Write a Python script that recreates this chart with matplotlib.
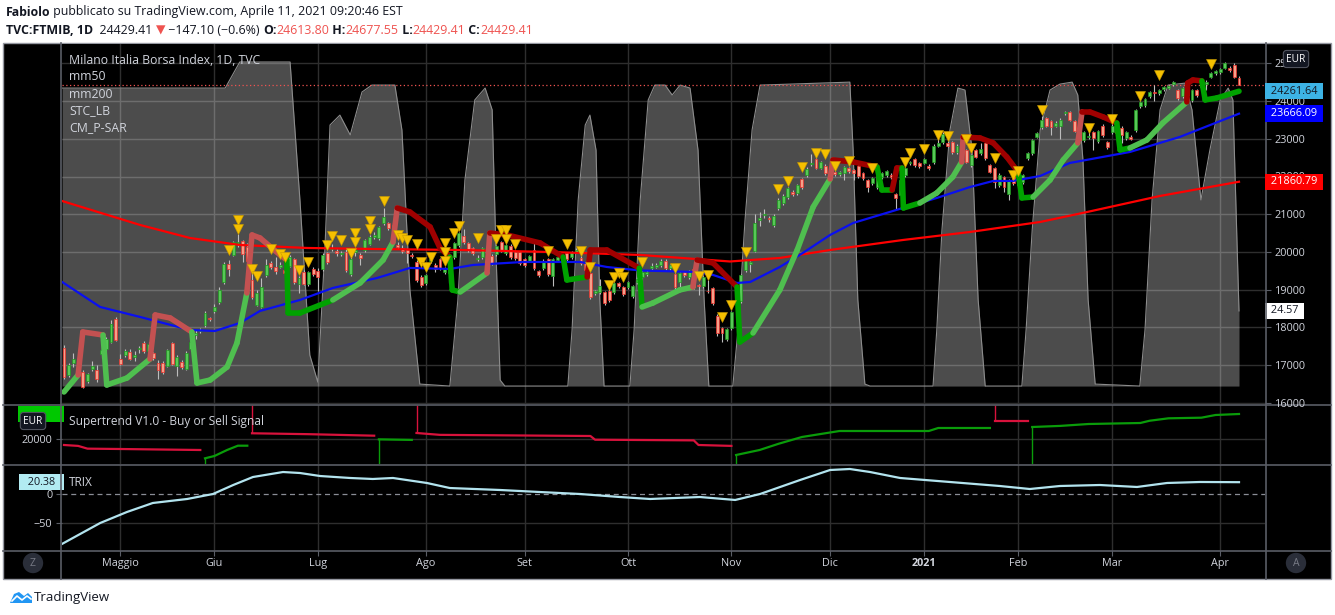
"""
FTSE MIB daily chart (TVC:FTMIB, 1D) with mm50 / mm200, STC, trailing stop,
Supertrend and TRIX panes - rebuilt from a TradingView screenshot.
"""

import numpy as np
import pandas as pd
import matplotlib
matplotlib.use("Agg")
import matplotlib.pyplot as plt
import matplotlib.transforms as mtransforms
from matplotlib.collections import LineCollection
from matplotlib.lines import Line2D
from matplotlib.patches import Rectangle, Polygon

plt.rcParams['font.family'] = ['Open Sans', 'DejaVu Sans']

W, H = 1335, 615

# ---------------- daily candles ----------------
opens = [
    17450, 16730, 17050, 17050, 16820, 16570, 16900, 16860, 17290, 17420,
    17600, 18210, 17160, 17260, 17340, 17210, 17420, 17580, 17370, 17310,
    17050, 17050, 16970, 17580, 16970, 17080, 16890, 17420, 17790, 17900,
    18060, 18240, 18430, 18670, 19190, 19680, 19920, 20230, 20290, 20130,
    19250, 18590, 18530, 19380, 19700, 19600, 19600, 19510, 19630, 19810,
    19150, 19460, 19150, 19540, 19490, 19540, 19960, 20070, 20020, 19940,
    20000, 19410, 19990, 19910, 20050, 20210, 20390, 20360, 20760, 20760,
    20710, 20180, 20100, 20050, 19910, 19730, 19330, 19170, 19760, 19650,
    19800, 19460, 19440, 19860, 20180, 20420, 20230, 20100, 19810, 19860,
    19860, 19890, 19940, 20260, 19970, 20150, 20000, 19990, 19810, 19760,
    20050, 19490, 19570, 19810, 19360, 19780, 19810, 19970, 19860, 20000,
    19840, 19730, 19440, 18900, 18930, 18930, 18960, 18930, 19170, 19060,
    19060, 18830, 19200, 19330, 19410, 19570, 19600, 19650, 19760, 19570,
    19410, 19190, 19460, 19330, 19540, 19110, 19090, 18960, 19040, 18300,
    17970, 17680, 17980, 18770, 18690, 19520, 19680, 20030, 20840, 20990,
    20890, 20710, 21160, 21290, 21450, 21590, 21560, 21930, 22030, 22330,
    22460, 22230, 22280, 22180, 22110, 22060, 22090, 22220, 22170, 22280,
    22090, 21900, 21820, 21720, 21980, 22030, 22040, 21530, 21510, 22030,
    22350, 22460, 22350, 22360, 22280, 22380, 22810, 22910, 22890, 22910,
    22650, 22840, 22700, 22300, 22700, 22620, 22880, 22300, 22220, 21770,
    21980, 21530, 21980, 21770, 21850, 22490, 22620, 23050, 23310, 23550,
    23470, 23340, 23340, 23680, 23710, 23470, 23260, 22960, 23050, 23180,
    22940, 23340, 22910, 23180, 23260, 23290, 23020, 23050, 23230, 23870,
    23890, 24130, 24240, 24210, 24320, 24350, 24450, 24290, 24130, 24290,
    24020, 24290, 24370, 24450, 24640, 24740, 24770, 24880, 24880, 24960,
    24613.80,
]
highs = [
    17520, 17060, 17310, 17200, 16870, 16800, 17100, 17000, 17560, 17740,
    18190, 18260, 17290, 17420, 17420, 17380, 17500, 17640, 17600, 17350,
    17120, 17100, 17420, 17600, 17260, 17120, 17360, 17650, 17920, 17990,
    18420, 18280, 18620, 19070, 19720, 19780, 20300, 20480, 20320, 20230,
    19520, 19000, 19300, 19800, 19760, 19860, 19720, 19800, 19920, 19850,
    19370, 19520, 19500, 19600, 19560, 19960, 20010, 20200, 20080, 20020,
    20080, 20010, 20100, 19970, 20350, 20460, 20520, 20700, 21160, 20800,
    20760, 20250, 20170, 20110, 19980, 19780, 19380, 19420, 19870, 19700,
    19850, 19610, 19740, 20270, 20540, 20620, 20270, 20140, 19930, 20140,
    19920, 19940, 20190, 20300, 20220, 20200, 20040, 20030, 19850, 19930,
    20300, 19530, 19800, 19850, 19850, 19920, 19940, 20010, 20030, 20110,
    19880, 19770, 19480, 19000, 19290, 18970, 19010, 19210, 19210, 19100,
    19240, 19130, 19330, 19510, 19520, 19700, 19700, 19800, 19800, 19690,
    19450, 19480, 19500, 19530, 19580, 19150, 19370, 19250, 19080, 18360,
    18010, 17990, 18440, 19080, 19420, 19820, 19760, 21000, 21050, 21130,
    20940, 21000, 21420, 21530, 21730, 21640, 21810, 21970, 22240, 22600,
    22500, 22420, 22320, 22280, 22150, 22150, 22290, 22260, 22210, 22320,
    22130, 21940, 22000, 22050, 22130, 22180, 22080, 21570, 21940, 22260,
    22420, 22500, 22390, 22500, 22320, 22850, 23020, 23170, 22930, 22950,
    22850, 22880, 22740, 22610, 22740, 22900, 22920, 22340, 22260, 22080,
    22020, 21940, 22020, 21940, 22070, 22660, 23000, 23190, 23600, 23590,
    23510, 23460, 23540, 23750, 23750, 23510, 23300, 23220, 23300, 23220,
    23240, 23380, 22950, 23380, 23300, 23330, 23220, 23090, 23800, 24010,
    24090, 24280, 24420, 24330, 24410, 24440, 24540, 24330, 24380, 24330,
    24330, 24330, 24520, 24550, 24780, 24830, 24890, 25050, 24920, 25000,
    24677.55,
]
lows = [
    16640, 16690, 16940, 16920, 16380, 16520, 16830, 16560, 17180, 17380,
    17580, 17640, 16990, 17200, 17140, 17110, 17320, 17330, 17310, 17130,
    16640, 16760, 16940, 16990, 16720, 16900, 16860, 17380, 17700, 17850,
    18020, 18170, 18390, 18630, 19150, 19370, 19880, 20130, 19720, 19720,
    18760, 18560, 18500, 19330, 19540, 19420, 19560, 19400, 19590, 19160,
    18900, 19110, 19100, 19370, 18960, 19500, 19690, 20020, 19900, 19880,
    19470, 19370, 19900, 19650, 20010, 20170, 20330, 20320, 20720, 20590,
    20460, 20090, 19960, 19700, 19840, 19200, 19080, 19130, 19700, 19480,
    19530, 19420, 19180, 19820, 20140, 20220, 19990, 19930, 19770, 19820,
    19740, 19660, 19900, 20010, 19930, 19820, 19790, 19660, 19610, 19720,
    19530, 19340, 19530, 19370, 19100, 19740, 19770, 19770, 19820, 19960,
    19660, 19480, 18760, 18860, 18890, 18600, 18680, 18890, 19050, 18840,
    19020, 18790, 19160, 19100, 19370, 19530, 19560, 19610, 19530, 19530,
    19020, 18980, 19340, 19290, 19020, 18850, 19050, 18900, 18600, 17780,
    17600, 17640, 17940, 18730, 18650, 19480, 19480, 19990, 20700, 20900,
    20800, 20670, 21120, 21250, 21410, 21490, 21520, 21680, 21990, 22290,
    22190, 22190, 22050, 22000, 22020, 22020, 21900, 22100, 21900, 21970,
    21920, 21600, 21780, 21680, 21940, 21990, 21940, 21150, 21470, 21990,
    22310, 22260, 22230, 22320, 22180, 22340, 22770, 22870, 22770, 22610,
    22610, 22670, 22350, 22260, 22480, 22580, 22450, 22080, 21700, 21730,
    21600, 21380, 21780, 21730, 21810, 22450, 22580, 23010, 23270, 23300,
    23100, 23300, 23000, 23640, 23460, 23170, 22920, 22920, 23000, 22700,
    22900, 23060, 22740, 23140, 23110, 22900, 22980, 22960, 23190, 23830,
    23850, 24090, 24000, 24170, 24280, 24310, 24410, 24040, 24090, 24120,
    23980, 24120, 24330, 24300, 24600, 24700, 24730, 24840, 24780, 24600,
    24429.41,
]
closes = [
    16680, 17000, 17150, 17130, 16420, 16760, 16980, 16620, 17390, 17690,
    18080, 17660, 17030, 17370, 17160, 17260, 17450, 17370, 17550, 17180,
    16860, 16810, 17390, 17020, 17210, 16950, 17310, 17610, 17850, 17930,
    18380, 18210, 18540, 18980, 19680, 19550, 20260, 20260, 19940, 19760,
    18800, 18910, 19060, 19640, 19600, 19490, 19650, 19440, 19860, 19200,
    19320, 19150, 19460, 19410, 19330, 19910, 19730, 20100, 19960, 19960,
    19510, 19810, 20040, 19830, 20310, 20390, 20440, 20650, 20920, 20630,
    20500, 20130, 20020, 19970, 19890, 19250, 19120, 19380, 19810, 19540,
    19570, 19570, 19700, 20230, 20500, 20260, 20050, 19970, 19850, 20100,
    19780, 19700, 20150, 20050, 20180, 19860, 19830, 19700, 19650, 19890,
    19570, 19380, 19760, 19410, 19810, 19860, 19890, 19810, 19990, 20050,
    19700, 19520, 18800, 18950, 19090, 18640, 18720, 19170, 19090, 18880,
    19200, 19090, 19280, 19470, 19470, 19620, 19650, 19760, 19570, 19650,
    19060, 19440, 19380, 19490, 19060, 19100, 19330, 18950, 18640, 17840,
    17840, 17950, 18400, 19040, 19380, 19780, 19720, 20760, 20900, 21010,
    20870, 20950, 21370, 21480, 21690, 21530, 21770, 21720, 22200, 22370,
    22230, 22380, 22090, 22230, 22060, 22110, 22250, 22140, 22090, 22010,
    21960, 21720, 21960, 22010, 22090, 22140, 21980, 21430, 21900, 22220,
    22380, 22300, 22270, 22460, 22220, 22810, 22890, 23130, 22810, 22650,
    22810, 22710, 22390, 22570, 22520, 22730, 22490, 22120, 21850, 22040,
    21720, 21900, 21820, 21900, 22030, 22620, 22960, 23150, 23500, 23340,
    23310, 23420, 23500, 23710, 23500, 23210, 22960, 23180, 23080, 23020,
    23200, 23100, 22780, 23340, 23150, 23100, 23180, 23000, 23760, 23970,
    24050, 24240, 24210, 24290, 24370, 24400, 24500, 24080, 24340, 24160,
    24290, 24160, 24480, 24510, 24740, 24790, 24850, 25010, 24820, 24640,
    24429.41,
]

# ---------------- indicators (bar index, value) ----------------
ma50_bars = [-0.4, 7.7, 16.2, 26.8, 32.1, 37.4, 41.7, 50.2, 57.2, 66.6, 73.6, 82.1,
             87, 97.7, 109.8, 115.5, 122.6, 134.7, 138.1, 143.2, 146, 152.3, 157.2,
             163, 167.9, 178.5, 185.7, 192.8, 197.7, 201.9, 207.7, 214, 226.8, 237.4, 250]
ma50_vals = [19202, 18539, 18274, 17929, 17902, 18114, 18433, 18725, 19043, 19308, 19574, 19547,
             19653, 19733, 19733, 19600, 19507, 19467, 19388, 19176, 19202, 19600, 19972,
             20449, 20767, 21165, 21431, 21722, 21882, 21882, 22014, 22359, 22651, 23049, 23666.09]

ma200_bars = [-0.4, 16.2, 26.8, 37.4, 51.7, 65.7, 84.3, 103.4, 122.6, 141.7, 152.3,
              163, 178.5, 192.8, 207.7, 217.7, 233.2, 250]
ma200_vals = [21350, 20714, 20369, 20184, 20104, 20078, 20051, 19998, 19919, 19746, 19839,
              20051, 20316, 20529, 20794, 21059, 21484, 21860.79]

# STC_LB oscillator (0-100), drawn as grey area on the price pane
stc_bars = [-0.4, 34.3, 37.4, 48.1, 50.2, 52.3, 54.0, 55.5, 56.6, 58.7, 60.9, 63.4, 65.5,
            70.4, 71.9, 73.6, 75.7, 82.1, 83.8, 85.3, 87.4, 89.6, 91.1, 91.9, 92.8, 93.8,
            107.2, 108.1, 109.4, 110.9, 111.9, 113.2, 114.0, 114.9, 120.4, 121.3, 122.6,
            124.3, 125.7, 127.9, 129.4, 131.1, 133.2, 134.9, 136.2, 137.2, 142.3, 143.4,
            144.9, 146.4, 148.1, 167.2, 167.9, 168.9, 170.4, 171.5, 184.9, 185.7, 186.8,
            188.5, 190.2, 191.7, 193.2, 194.5, 196.0, 203.8, 204.7, 206.0, 207.7, 209.8,
            211.9, 214.5, 215.7, 216.8, 217.9, 219.4, 228.9, 230.0, 231.5, 233.2, 234.9,
            238.5, 240.0, 241.9, 243.8, 246.0, 247.7, 248.7, 250]
stc_vals = [92.1, 92.1, 100, 100, 58.2, 11.2, 3.0, 43.0, 80.9, 83.9, 77.9, 90.9, 93.0,
            93.0, 79.4, 30.9, 2.4, 1.8, 27.9, 64.2, 88.5, 92.1, 85.5, 43.0, 3.6, 1.8,
            1.8, 18.8, 58.2, 80.9, 83.9, 73.3, 27.9, 1.8, 1.8, 18.8, 58.2,
            88.5, 93.0, 93.0, 90.0, 93.0, 92.1, 73.3, 27.9, 1.8, 1.8, 18.8,
            52.1, 79.4, 93.0, 93.9, 73.3, 27.9, 2.4, 1.8, 1.8, 18.8, 49.1,
            79.4, 92.1, 91.5, 73.3, 27.9, 1.8, 1.8, 18.8, 49.1, 79.4, 91.5,
            93.3, 93.9, 90.0, 70.3, 27.9, 2.4, 1.8, 18.8, 58.2, 85.5, 93.0,
            93.6, 85.5, 58.2, 73.3, 88.5, 92.1, 88.5, 24.57]
STC_BASE = 1.8

# trailing stop (CM_P-SAR): g/G = light/strong long, r/R = light/strong short
trail_bars = [0, 3, 4, 8.3, 9.1, 13.4, 18.3, 19.4, 22.6, 27.2, 28.3, 31.1, 34.7, 36.8, 38.9,
              40, 41.7, 46, 47.4, 47.7, 50.2, 57.2, 63, 67.9, 70, 70.9, 73.6, 77.9, 80, 82.1,
              82.6, 84.3, 90, 90.6, 94.3, 101.3, 106.2, 107, 111.3, 112, 115.5, 122.4,
              123, 125.3, 131, 133.8, 134.7, 138.1, 139.6, 143.2, 143.8, 146.6, 152.3, 156,
              159.4, 163, 163.6, 167.9, 173, 174, 176.2, 177.2, 178.3, 178.6, 182.1, 185.7,
              189.1, 191, 191.3, 194.9, 197.7, 200.6, 203, 203.8, 206.2, 209.8, 212.6, 215.7,
              216.6, 218.3, 221.1, 224, 224.7, 226.8, 230.4, 233.8, 238.9, 239.1, 240.2,
              242.1, 242.8, 245.3, 250]
trail_vals = [16284, 16735, 17876, 17796, 16470, 16655, 17159, 18327, 18247, 17876, 16523,
              16602, 16947, 17584, 18910, 20449, 20370, 19918, 19786, 18380, 18380, 18725,
              19176, 19786, 20263, 21165, 21059, 20661, 20104, 19865, 18990, 18937, 19441,
              20502, 20449, 20237, 19865, 19255, 19335, 20051, 20051, 19570, 18539, 18645,
              18990, 19070, 19786, 19706, 19520, 19070, 17610, 17849, 18990, 20051, 21192,
              21935, 22439, 22386, 22253, 21643, 21643, 22227, 22227, 21165, 21298, 21563,
              21988, 22386, 23049, 23022, 22890, 22518, 22120, 21431, 21457, 21908, 22439,
              22890, 23712, 23712, 23580, 23420, 22704, 22757, 22969, 23420, 23977, 24482,
              24561, 24535, 24031, 24084, 24261.64]
trail_codes = ['g', 'g', 'r', 'r', 'g', 'g', 'g', 'r', 'r', 'r', 'g', 'g', 'g', 'g', 'g',
               'r', 'r', 'r', 'r', 'G', 'G', 'G', 'g', 'g', 'g', 'r', 'R', 'R', 'R', 'R',
               'G', 'G', 'g', 'r', 'R', 'R', 'R', 'G', 'G', 'R', 'R', 'R',
               'G', 'g', 'g', 'g', 'r', 'R', 'R', 'R', 'G', 'G', 'g', 'g',
               'g', 'g', 'r', 'R', 'R', 'G', 'G', 'R', 'R', 'G', 'G', 'g',
               'g', 'g', 'r', 'R', 'R', 'R', 'R', 'G', 'G', 'g', 'g', 'g',
               'r', 'R', 'R', 'R', 'G', 'G', 'g', 'g', 'g', 'R', 'R',
               'R', 'G', 'G', 'G']

# yellow signal triangles (bar, price)
tri_bars = [37, 37, 35, 40, 41, 44, 46, 47, 50, 52, 56, 57, 59, 61, 62, 62, 65, 65, 68, 71,
            72, 73, 75, 76, 77, 78, 81, 81, 81, 83, 84, 88, 92, 93, 94, 94, 96, 103, 107, 110,
            112, 116, 117, 118, 119, 123, 130, 135, 137, 140, 142, 145, 152, 154, 157, 160,
            162, 164, 167, 172, 179, 180, 183, 186, 188, 192, 193, 198, 202, 203, 208, 218,
            223, 229, 233, 244]
tri_vals = [20850, 20610, 20050, 19550, 19360, 20080, 19945, 19865, 19520, 19733, 20184, 20423,
            20316, 19972, 20502, 20263, 20820, 20610, 21351, 20449, 20370, 20316, 20210, 19733,
            19600, 19865, 20237, 19998, 19759, 20502, 20688, 20370, 20343, 20582, 20582, 20343,
            20210, 20025, 20210, 20025, 19600, 19123, 19335, 19441, 19335, 19733, 19574, 19360,
            19388, 18274, 18592, 19998, 21669, 21882, 22253, 22625, 22598, 22280, 22412, 22227,
            22386, 22625, 22731, 23102, 23076, 22996, 22757, 22492, 22041, 22147, 23765, 23288,
            23527, 24137, 24694, 24986]

# Supertrend V1.0 (trend +1 long / -1 short)
st_bars = [0, 3, 5, 12, 20, 29, 30, 32, 34.7, 37, 39, 40, 52, 66, 67, 74, 75, 80, 112, 113,
           134, 135, 142, 143, 148, 152, 157, 165, 184, 186, 197, 198, 205, 206, 212, 218,
           229, 231, 235, 242, 245, 250]
st_vals = [19130, 19000, 18600, 18550, 18480, 18405, 17200, 17535, 18405, 19030, 19030,
           20830, 20700, 20480, 19950, 19870, 20870, 20600, 20435, 19900, 19800, 19130, 19000,
           17680, 18405, 19300, 20290, 21160, 21160, 21595, 21595, 22610, 22610, 21740, 21900,
           22175, 22320, 22650, 23000, 23090, 23480, 23625]
st_trend = [-1] * 6 + [1] * 5 + [-1] * 3 + [1] * 2 + [-1] * 7 + [1] * 8 + [-1] * 2 + [1] * 9

# TRIX
trix_bars = [-0.4, 7.7, 13.4, 18.9, 26.2, 31.7, 36, 40.2, 46.6, 50.2, 54.5, 60.9, 65.7, 70,
             77.2, 82.1, 92.8, 101.3, 109.8, 118.3, 124.7, 135.3, 142.8, 148.1, 156.6, 163,
             167.2, 171.5, 177.9, 188.5, 199.1, 205.5, 211.9, 220.4, 228.3, 234.7, 241.7, 250]
trix_vals = [-86, -50, -31, -15.5, -8.6, 0, 15.5, 29.3, 37.9, 36.2, 31, 27.6, 25.9, 27.6,
             19, 10.3, 6.9, 3.4, 0, -5.2, -8.6, -5.2, -10.3, 0, 24.1, 41.4,
             43.1, 37.9, 27.6, 20.7, 13.8, 8.6, 13.8, 15.5, 12.1, 19, 20.7, 20.38]

month_labels = ['Maggio', 'Giu', 'Lug', 'Ago', 'Set', 'Ott', 'Nov', 'Dic', '2021', 'Feb', 'Mar', 'Apr']
price_ticks = list(range(16000, 25001, 1000))

# ---------------- calendar ----------------
holidays = pd.to_datetime(['2020-05-01', '2020-12-24', '2020-12-25', '2020-12-31',
                           '2021-01-01', '2021-04-02', '2021-04-05'])
dates = pd.bdate_range('2020-04-15', '2021-04-09')
dates = dates[~dates.isin(holidays)]
month_start = [i for i in range(1, len(dates)) if dates[i].month != dates[i - 1].month]

# ---------------- colours ----------------
TXT = '#d1d4dc'
GRID = '#2e2e2e'
SEP = '#5a5d66'
DARK = '#131722'
RED_TXT = '#ef5350'

# ---------------- layout (pixels) ----------------
fig = plt.figure(figsize=(W / 100, H / 100), dpi=100, facecolor='white')


def px_axes(x0, y0, x1, y1, label):
    return fig.add_axes([x0 / W, 1 - y1 / H, (x1 - x0) / W, (y1 - y0) / H], label=label)


def fx(px):
    return px / W


def fy(py):
    return 1 - py / H


fig.patches.append(Rectangle((fx(3), fy(579)), (1331 - 3) / W, (579 - 43) / H,
                             transform=fig.transFigure, facecolor='black',
                             edgecolor='#9598a1', lw=1, zorder=-5))

BAR0_PX, BAR_PX = 64, 4.7
xlim = ((62 - BAR0_PX) / BAR_PX, (1265 - BAR0_PX) / BAR_PX)


def price_at(py):
    return 16000 + (402.7 - py) / 37.7 * 1000


ax_bg = px_axes(62, 44, 1265, 404, 'bg')
ax_stc = px_axes(62, 44, 1265, 404, 'stc')
ax_main = px_axes(62, 44, 1265, 404, 'main')
ax_st = px_axes(62, 405, 1265, 464, 'st')
ax_trix = px_axes(62, 465, 1265, 550, 'trix')

ax_bg.set_zorder(0)
ax_stc.set_zorder(1)
ax_main.set_zorder(2)

for ax in (ax_bg, ax_stc, ax_main, ax_st, ax_trix):
    ax.set_xlim(*xlim)
    for s in ax.spines.values():
        s.set_visible(False)
    ax.tick_params(axis='x', length=0, labelbottom=False)
ax_bg.set_facecolor('black')
ax_st.set_facecolor('black')
ax_trix.set_facecolor('black')
ax_stc.patch.set_alpha(0)
ax_main.patch.set_alpha(0)

main_ylim = (price_at(404), price_at(44))
ax_bg.set_ylim(*main_ylim)
ax_main.set_ylim(*main_ylim)
ax_stc.set_ylim((392 - 404) / 3.3, (392 - 44) / 3.3)
ax_st.set_ylim(20000 - (464 - 439) * 145, 20000 + (439 - 405) * 145)
ax_trix.set_ylim((494 - 550) / 0.58, (494 - 465) / 0.58)

ax_bg.set_yticks([])
ax_stc.set_yticks([])

# grid
for t in price_ticks:
    ax_bg.axhline(t, color=GRID, lw=1, zorder=0)
for ax in (ax_bg, ax_st, ax_trix):
    for m in month_start:
        ax.axvline(m, color=GRID, lw=1, zorder=0)
ax_st.axhline(20000, color=GRID, lw=1, zorder=0)
ax_trix.axhline(-50, color=GRID, lw=1, zorder=0)

# ---------------- STC grey area ----------------
ax_stc.fill_between(stc_bars, STC_BASE, stc_vals, color='white', alpha=0.3, lw=0, zorder=1)
ax_stc.plot(stc_bars, stc_vals, color='#8c8c8c', lw=0.8, zorder=2)
ax_stc.annotate(' 24.57 ', xy=(1, stc_vals[-1]),
                xycoords=mtransforms.blended_transform_factory(ax_stc.transAxes, ax_stc.transData),
                xytext=(3, 0), textcoords='offset pixels', ha='left', va='center',
                fontsize=7.8, color=DARK, annotation_clip=False, zorder=20,
                bbox=dict(boxstyle='square,pad=0.25', fc='white', ec='none'))

# ---------------- price pane ----------------
o = np.array(opens)
c = np.array(closes)
hi = np.array(highs)
lo = np.array(lows)
idx = np.arange(len(c))
up = c >= o
body = np.maximum(np.abs(c - o), 15)
bottom = np.minimum(o, c)

ax_main.vlines(idx, lo, hi, color='#bdbdbd', lw=0.8, zorder=3)
ax_main.bar(idx[up], body[up], bottom=bottom[up], width=0.62, color='#57c957',
            edgecolor='#1e961e', linewidth=0.5, zorder=3.2)
ax_main.bar(idx[~up], body[~up], bottom=bottom[~up], width=0.62, color='#f6a08a',
            edgecolor='#f0302a', linewidth=0.5, zorder=3.2)

ax_main.plot(ma200_bars, ma200_vals, color='#ff0000', lw=1.6, zorder=4)
ax_main.plot(ma50_bars, ma50_vals, color='#0a10f0', lw=1.6, zorder=4)

trail_colors = {'g': '#4fbf4f', 'G': '#00a200', 'r': '#c35151', 'R': '#a00000'}
pts = np.column_stack([trail_bars, trail_vals])
segs = np.stack([pts[:-1], pts[1:]], axis=1)
ax_main.add_collection(LineCollection(segs, colors=[trail_colors[k] for k in trail_codes[1:]],
                                      linewidths=4, capstyle='round', joinstyle='round',
                                      zorder=4.5))

ax_main.plot(tri_bars, tri_vals, 'v', color='#f5c000', markersize=6.5,
             markeredgecolor='#c99a00', markeredgewidth=0.4, zorder=6, ls='none')

ax_main.axhline(closes[-1], color=RED_TXT, lw=0.9, ls=(0, (1, 2)), zorder=2.5)

ax_main.yaxis.tick_right()
ax_main.set_yticks(price_ticks)
ax_main.set_yticklabels([str(t) for t in price_ticks])
ax_main.tick_params(axis='y', colors=SEP, labelcolor=TXT, labelsize=7.8, length=4, pad=3)

blend_main = mtransforms.blended_transform_factory(ax_main.transAxes, ax_main.transData)
for val, fc, tc in [(24261.64, '#3db3e5', DARK), (ma50_vals[-1], '#0000ff', 'white'),
                    (ma200_vals[-1], '#ff0000', 'white')]:
    ax_main.annotate(f' {val:.2f} ', xy=(1, val), xycoords=blend_main, xytext=(3, 0),
                     textcoords='offset pixels', ha='left', va='center', fontsize=7.8,
                     color=tc, annotation_clip=False, zorder=20,
                     bbox=dict(boxstyle='square,pad=0.25', fc=fc, ec='none'))

# ---------------- Supertrend pane ----------------
ST_GREEN, ST_RED = '#0a9c0a', '#d8123c'
st_b = np.array(st_bars)
st_v = np.array(st_vals)
start = 0
for i in range(1, len(st_trend) + 1):
    if i == len(st_trend) or st_trend[i] != st_trend[start]:
        col = ST_GREEN if st_trend[start] > 0 else ST_RED
        ax_st.plot(st_b[start:i], st_v[start:i], color=col, lw=1.6, zorder=3)
        if start > 0:
            edge = ax_st.get_ylim()[0] if st_trend[start] > 0 else ax_st.get_ylim()[1]
            ax_st.vlines(st_b[start], st_v[start], edge, color=col, lw=1, zorder=3)
        start = i

ax_st.set_yticks([20000])
ax_st.set_yticklabels(['20000'])
ax_st.tick_params(axis='y', colors=SEP, labelcolor=TXT, labelsize=7.8, length=4, pad=3)
blend_st = mtransforms.blended_transform_factory(ax_st.transAxes, ax_st.transData)
# last-value tag, mostly hidden under the EUR badge as in the screenshot
ax_st.annotate('              ', xy=(0, st_vals[-1]), xycoords=blend_st, xytext=(-1, 0),
               textcoords='offset pixels', ha='right', va='center', fontsize=7.8,
               annotation_clip=False, zorder=20,
               bbox=dict(boxstyle='square,pad=0.25', fc='#00c800', ec='none'))

# ---------------- TRIX pane ----------------
ax_trix.axhline(0, color='#8a8d96', lw=0.9, ls=(0, (4, 3)), zorder=1)
ax_trix.plot(trix_bars, trix_vals, color='#b2e3ee', lw=1.6, zorder=3)
ax_trix.set_yticks([-50, 0])
ax_trix.set_yticklabels(['\u221250', '0'])
ax_trix.tick_params(axis='y', colors=SEP, labelcolor=TXT, labelsize=7.8, length=4, pad=3)
blend_tr = mtransforms.blended_transform_factory(ax_trix.transAxes, ax_trix.transData)
ax_trix.annotate('  20.38  ', xy=(0, trix_vals[-1]), xycoords=blend_tr, xytext=(-1, 0),
                 textcoords='offset pixels', ha='right', va='center', fontsize=7.8,
                 color=DARK, annotation_clip=False, zorder=20,
                 bbox=dict(boxstyle='square,pad=0.25', fc='#b2ebf2', ec='none'))

ax_trix.set_xticks(month_start)
ax_trix.set_xticklabels(month_labels)
ax_trix.tick_params(axis='x', length=4, colors=SEP, labelcolor=TXT, labelsize=7.8,
                    labelbottom=True, pad=2)
for lab in ax_trix.get_xticklabels():
    if lab.get_text() == '2021':
        lab.set_fontweight('bold')

# ---------------- separators ----------------
for y in (404.5, 464.5, 550.5):
    fig.add_artist(Line2D([fx(3), fx(1331)], [fy(y), fy(y)], color=SEP, lw=1.2))
for x in (61.5, 1265.5):
    fig.add_artist(Line2D([fx(x), fx(x)], [fy(43), fy(579)], color=SEP, lw=1.2))

# ---------------- legends ----------------
legend_lines = ['Milano Italia Borsa Index, 1D, TVC', 'mm50', 'mm200', 'STC_LB', 'CM_P-SAR']
for k, s in enumerate(legend_lines):
    fig.text(fx(69), fy(60 + 17 * k), s, color=TXT, fontsize=8.8, va='center', ha='left')
fig.text(fx(69), fy(422), 'Supertrend V1.0 - Buy or Sell Signal', color=TXT, fontsize=8.6,
         va='center', ha='left')
fig.text(fx(69), fy(482), 'TRIX', color=TXT, fontsize=8.6, va='center', ha='left')

badge = dict(boxstyle='round,pad=0.3', fc=DARK, ec='#50535e', lw=0.8)
fig.text(fx(1296), fy(59), 'EUR', color='white', fontsize=7.3, ha='center', va='center',
         bbox=badge, zorder=30)
fig.text(fx(33), fy(421), 'EUR', color='white', fontsize=7.3, ha='center', va='center',
         bbox=badge, zorder=30)

circ = dict(boxstyle='circle,pad=0.45', fc='#2a2e39', ec='none')
fig.text(fx(33), fy(563), 'Z', color='#787b86', fontsize=7.5, ha='center', va='center', bbox=circ)
fig.text(fx(1296), fy(563), 'A', color='#787b86', fontsize=7.5, ha='center', va='center', bbox=circ)

# ---------------- header / footer ----------------
renderer = fig.canvas.get_renderer()


def text_runs(x_px, y_px, runs, size=8.9):
    x = x_px
    for s, color, weight in runs:
        t = fig.text(fx(x), fy(y_px), s, color=color, fontsize=size, fontweight=weight,
                     ha='left', va='center')
        x += t.get_window_extent(renderer).width


text_runs(6, 12, [('Fabiolo', DARK, 'bold'),
                  (' pubblicato su TradingView.com, Aprile 11, 2021 09:20:46 EST', DARK, 'normal')])
text_runs(6, 30, [('TVC:FTMIB, 1D', DARK, 'bold'), ('  24429.41 ', DARK, 'normal'),
                  ('\u25bc', RED_TXT, 'normal'), (' \u2212147.10 (\u22120.6%) ', DARK, 'normal'),
                  ('O:', DARK, 'bold'), ('24613.80', RED_TXT, 'normal'),
                  (' H:', DARK, 'bold'), ('24677.55', RED_TXT, 'normal'),
                  (' L:', DARK, 'bold'), ('24429.41', RED_TXT, 'normal'),
                  (' C:', DARK, 'bold'), ('24429.41', RED_TXT, 'normal')])

# TradingView logo + name
logo = Polygon([[fx(10), fy(603)], [fx(14), fy(594)], [fx(19), fy(592)], [fx(24), fy(596)],
                [fx(28), fy(593)], [fx(32), fy(597)], [fx(32), fy(603)]],
               closed=True, transform=fig.transFigure, fc='#2196f3', ec='none')
fig.patches.append(logo)
fig.add_artist(Line2D([fx(12), fx(17), fx(22), fx(27), fx(31)],
                      [fy(601), fy(596), fy(600), fy(596), fy(599)], color='white', lw=1.2))
fig.text(fx(34), fy(598), 'TradingView', color=DARK, fontsize=9.5, ha='left', va='center')

fig.savefig('out.png', dpi=100, facecolor='white')
